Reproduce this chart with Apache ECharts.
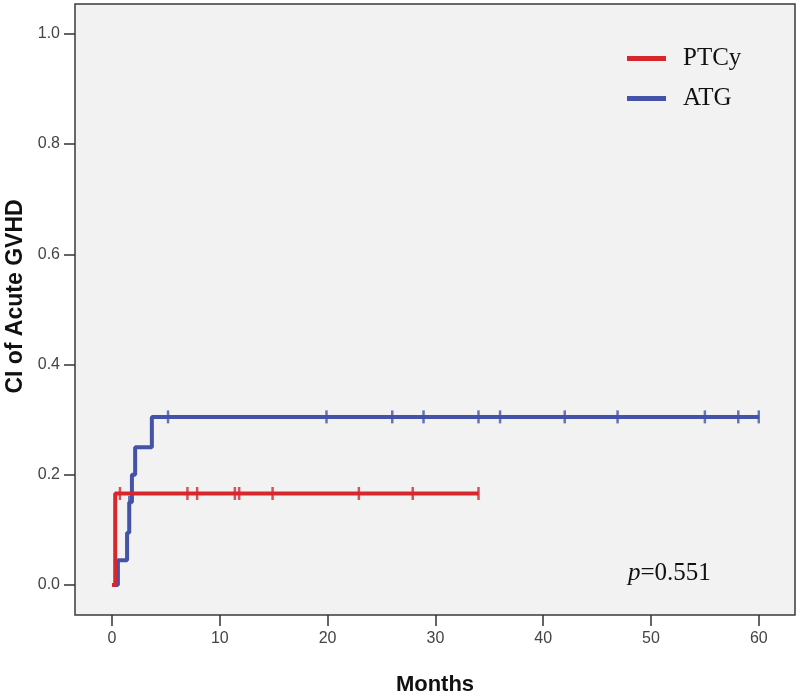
<!DOCTYPE html>
<html>
<head>
<meta charset="utf-8">
<script src="https://cdn.jsdelivr.net/npm/echarts@6/dist/echarts.min.js"></script>
<style>
  html, body { margin: 0; padding: 0; background: #ffffff; }
  #main { width: 800px; height: 698px; }
</style>
</head>
<body>
<div id="main"></div>
<script>
// PTCy curve (months, cumulative incidence)
var ptcyTimes = [0, 0.3, 34];
var ptcyValues = [0, 0.166, 0.166];
var ptcyCensor = [0.74, 7.0, 7.9, 11.4, 11.8, 14.9, 22.9, 27.9, 34.0];

// ATG curve
var atgTimes = [0, 0.55, 1.4, 1.6, 1.85, 2.15, 3.7, 60];
var atgValues = [0, 0.045, 0.095, 0.15, 0.2, 0.25, 0.305, 0.305];
var atgCensor = [1.6, 5.2, 19.9, 26.0, 28.9, 34.0, 36.0, 42.0, 46.9, 55.0, 58.1, 60.0];

var xTicks = [0, 10, 20, 30, 40, 50, 60];
var yTicks = [0, 0.2, 0.4, 0.6, 0.8, 1.0];
var pText = '0.551';

var RED = '#d8262d';
var BLUE = '#4452a8';

function pairs(ts, vs) {
  return ts.map(function (t, i) { return [t, vs[i]]; });
}
// value of the step curve at time t
function stepAt(ts, vs, t) {
  var v = vs[0];
  for (var i = 0; i < ts.length; i++) {
    if (ts[i] <= t) v = vs[i];
  }
  return v;
}
function censorPts(ts, vs, cs) {
  return cs.map(function (c) { return [c, stepAt(ts, vs, c)]; });
}

var chart = echarts.init(document.getElementById('main'));
var option = {
  animation: false,
  backgroundColor: '#ffffff',
  grid: {
    left: 75, right: 5, top: 4, bottom: 83,
    outerBoundsMode: 'none',
    show: true,
    backgroundColor: '#f2f2f2',
    borderColor: '#3a3a3a',
    borderWidth: 1.5
  },
  title: {
    text: '{i|p}=' + pText,
    left: 628, top: 561,
    padding: 0,
    textStyle: {
      fontFamily: 'Liberation Serif',
      fontSize: 25,
      fontWeight: 'normal',
      color: '#111',
      rich: {
        i: { fontFamily: 'Liberation Serif', fontStyle: 'italic', fontSize: 25, color: '#111' }
      }
    }
  },
  legend: {
    data: ['PTCy', 'ATG'],
    orient: 'vertical',
    left: 627, top: 46,
    padding: 0,
    icon: 'rect',
    itemWidth: 39, itemHeight: 5,
    itemGap: 15,
    textStyle: {
      fontFamily: 'Liberation Serif',
      fontSize: 25,
      lineHeight: 25,
      color: '#111',
      padding: [0, 0, 0, 12]
    }
  },
  xAxis: {
    type: 'value',
    min: -3.43, max: 63.36,
    name: 'Months',
    nameLocation: 'middle',
    nameGap: 59,
    nameTextStyle: { fontFamily: 'Liberation Sans', fontWeight: 'bold', fontSize: 22, color: '#111' },
    axisLine: { show: false, onZero: false },
    splitLine: { show: false },
    axisTick: { show: true, length: 11, lineStyle: { color: '#333', width: 1.5 }, customValues: xTicks },
    axisLabel: {
      margin: 16,
      fontFamily: 'Liberation Sans', fontSize: 16, color: '#444',
      customValues: xTicks,
      formatter: function (v) { return String(v); }
    }
  },
  yAxis: {
    type: 'value',
    min: -0.0544, max: 1.054,
    name: 'CI of Acute GVHD',
    nameLocation: 'middle',
    nameRotate: 90,
    nameGap: 45,
    nameTextStyle: {
      fontFamily: 'Liberation Sans', fontWeight: 'bold', fontSize: 23, color: '#111',
      padding: [0, 0, 0, 26]
    },
    axisLine: { show: false, onZero: false },
    splitLine: { show: false },
    axisTick: { show: true, length: 11, lineStyle: { color: '#333', width: 1.5 }, customValues: yTicks },
    axisLabel: {
      margin: 15,
      fontFamily: 'Liberation Sans', fontSize: 16, color: '#444',
      customValues: yTicks,
      formatter: function (v) { return v.toFixed(1); }
    }
  },
  series: [
    {
      name: 'PTCy',
      type: 'line',
      step: 'end',
      showSymbol: false,
      color: RED,
      lineStyle: { color: RED, width: 4 },
      data: pairs(ptcyTimes, ptcyValues),
      z: 3
    },
    {
      name: 'ATG',
      type: 'line',
      step: 'end',
      showSymbol: false,
      color: BLUE,
      lineStyle: { color: BLUE, width: 4 },
      data: pairs(atgTimes, atgValues),
      z: 2
    },
    {
      name: 'PTCy censored',
      type: 'scatter',
      symbol: 'rect',
      symbolSize: [2.5, 13],
      itemStyle: { color: RED },
      data: censorPts(ptcyTimes, ptcyValues, ptcyCensor),
      z: 4
    },
    {
      name: 'ATG censored',
      type: 'scatter',
      symbol: 'rect',
      symbolSize: [2.5, 13],
      itemStyle: { color: BLUE },
      data: censorPts(atgTimes, atgValues, atgCensor),
      z: 4
    }
  ]
};
chart.setOption(option);
</script>
</body>
</html>
